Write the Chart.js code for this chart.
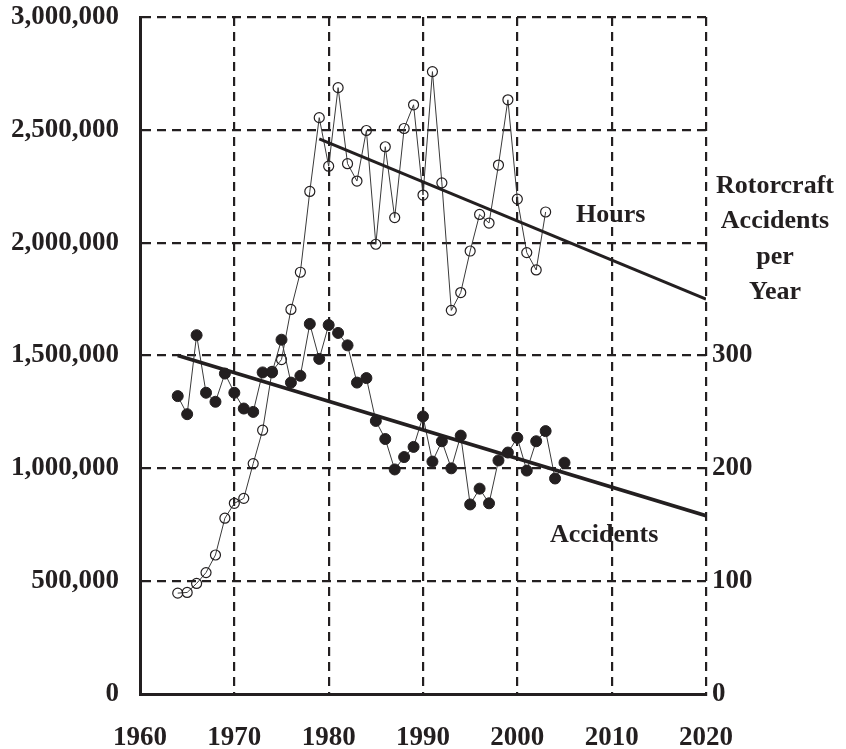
<!DOCTYPE html>
<html lang="en">
<head>
<meta charset="UTF-8">
<title>Rotorcraft Hours and Accidents</title>
<script src="https://cdn.jsdelivr.net/npm/chart.js@4.4.1/dist/chart.umd.min.js"></script>
<style>
    html, body { margin: 0; padding: 0; background: #fff; }
    #grafico { display: block; }
</style>
</head>
<body>
<canvas id="grafico" width="846" height="749"></canvas>
<script>
// Horas de vuelo por año (1964-2003)
const aniosHoras = [1964, 1965, 1966, 1967, 1968, 1969, 1970, 1971, 1972, 1973,
    1974, 1975, 1976, 1977, 1978, 1979, 1980, 1981, 1982, 1983,
    1984, 1985, 1986, 1987, 1988, 1989, 1990, 1991, 1992, 1993,
    1994, 1995, 1996, 1997, 1998, 1999, 2000, 2001, 2002, 2003];
const horasVuelo = [447000, 450000, 490000, 538000, 616000, 779000, 845000, 867000, 1021000, 1169000,
    1430000, 1482000, 1704000, 1869000, 2227000, 2554000, 2339000, 2687000, 2350000, 2273000,
    2497000, 1993000, 2425000, 2111000, 2506000, 2611000, 2211000, 2758000, 2265000, 1700000,
    1779000, 1963000, 2125000, 2087000, 2344000, 2633000, 2193000, 1956000, 1879000, 2136000];

// Accidentes de helicóptero por año (1964-2005)
const aniosAccidentes = [1964, 1965, 1966, 1967, 1968, 1969, 1970, 1971, 1972, 1973,
    1974, 1975, 1976, 1977, 1978, 1979, 1980, 1981, 1982, 1983,
    1984, 1985, 1986, 1987, 1988, 1989, 1990, 1991, 1992, 1993,
    1994, 1995, 1996, 1997, 1998, 1999, 2000, 2001, 2002, 2003,
    2004, 2005];
const accidentes = [264, 248, 318, 267, 259, 284, 267, 253, 250, 285,
    285, 314, 276, 282, 328, 297, 327, 320, 309, 276,
    280, 242, 226, 199, 210, 219, 246, 206, 224, 200,
    229, 168, 182, 169, 207, 214, 227, 198, 224, 233,
    191, 205];

// Rectas de tendencia (extremos)
const aniosTendenciaHoras = [1979, 2020];
const tendenciaHoras = [2460000, 1750000];
const aniosTendenciaAcc = [1964, 2020];
const tendenciaAccidentes = [300, 158];

// Ejes
const rangoAnios = [1960, 2020];
const rangoHoras = [0, 3000000];
const rangoAccidentes = [0, 600];
const maxEtiquetaDerecha = 300;
const tituloDerecha = ["Rotorcraft", "Accidents", "per", "Year"];

const NEGRO = '#231f20';
const FUENTE = '"Liberation Serif", "Times New Roman", serif';

function puntos(xs, ys) {
    return xs.map((x, i) => ({ x: x, y: ys[i] }));
}

// Quitar el margen extra que Chart.js deja para las etiquetas de los extremos
function ajustarEjeVertical(scale) {
    scale.width = 140;
    scale.paddingTop = 0;
    scale.paddingBottom = 0;
}

// Textos dentro del gráfico y título del eje derecho
const textosPlugin = {
    id: 'textos',
    afterDraw(chart) {
        const { ctx, chartArea, scales } = chart;
        ctx.save();
        ctx.fillStyle = NEGRO;
        ctx.font = 'bold 26px ' + FUENTE;
        ctx.textAlign = 'center';
        ctx.textBaseline = 'middle';
        ctx.fillText('Hours', scales.x.getPixelForValue(2009.9), scales.y.getPixelForValue(2120000));
        ctx.fillText('Accidents', scales.x.getPixelForValue(2009.2), scales.y.getPixelForValue(705000));

        const cx = chartArea.right + 69;
        tituloDerecha.forEach((linea, i) => {
            ctx.fillText(linea, cx, 186 + i * 35.5);
        });
        ctx.restore();
    }
};

const ctx = document.getElementById('grafico').getContext('2d');

new Chart(ctx, {
    type: 'line',
    data: {
        datasets: [
            {
                label: 'Tendencia accidentes',
                data: puntos(aniosTendenciaAcc, tendenciaAccidentes),
                yAxisID: 'y2',
                borderColor: NEGRO,
                borderWidth: 3.6,
                pointRadius: 0
            },
            {
                label: 'Tendencia horas',
                data: puntos(aniosTendenciaHoras, tendenciaHoras),
                yAxisID: 'y',
                borderColor: NEGRO,
                borderWidth: 3,
                pointRadius: 0
            },
            {
                label: 'Accidents',
                data: puntos(aniosAccidentes, accidentes),
                yAxisID: 'y2',
                borderColor: '#3a3a3a',
                borderWidth: 1,
                pointRadius: 5.5,
                pointBackgroundColor: NEGRO,
                pointBorderColor: NEGRO,
                pointBorderWidth: 1
            },
            {
                label: 'Hours',
                data: puntos(aniosHoras, horasVuelo),
                yAxisID: 'y',
                borderColor: '#3a3a3a',
                borderWidth: 1,
                pointRadius: 5,
                pointBackgroundColor: 'rgba(255,255,255,0)',
                pointBorderColor: NEGRO,
                pointBorderWidth: 1.2
            }
        ]
    },
    options: {
        responsive: false,
        animation: false,
        layout: { padding: { top: 17, left: 0, right: 0, bottom: 0 } },
        plugins: {
            legend: { display: false },
            tooltip: { enabled: false }
        },
        scales: {
            x: {
                type: 'linear',
                min: rangoAnios[0],
                max: rangoAnios[1],
                ticks: {
                    stepSize: 10,
                    color: NEGRO,
                    padding: 28,
                    font: { family: FUENTE, size: 27, weight: 'bold' },
                    callback: v => String(v)
                },
                grid: { color: NEGRO, lineWidth: 2.2, drawTicks: false },
                border: { display: true, color: NEGRO, width: 3, dash: [9, 6] },
                afterFit(scale) {
                    scale.height = 55;
                    scale.paddingLeft = 0;
                    scale.paddingRight = 0;
                }
            },
            y: {
                position: 'left',
                min: rangoHoras[0],
                max: rangoHoras[1],
                ticks: {
                    stepSize: 500000,
                    color: NEGRO,
                    padding: 21,
                    font: { family: FUENTE, size: 27, weight: 'bold' },
                    callback: v => v.toLocaleString('en-US')
                },
                grid: { color: NEGRO, lineWidth: 2.2, drawTicks: false },
                border: { display: true, color: NEGRO, width: 3, dash: [9, 6] },
                afterFit: ajustarEjeVertical
            },
            y2: {
                position: 'right',
                min: rangoAccidentes[0],
                max: rangoAccidentes[1],
                ticks: {
                    stepSize: 100,
                    color: NEGRO,
                    padding: 6,
                    font: { family: FUENTE, size: 27, weight: 'bold' },
                    callback: v => (v <= maxEtiquetaDerecha ? String(v) : '')
                },
                grid: { display: false, drawOnChartArea: false, drawTicks: false },
                border: { display: false },
                afterFit: ajustarEjeVertical
            }
        }
    },
    plugins: [textosPlugin]
});
</script>
</body>
</html>
